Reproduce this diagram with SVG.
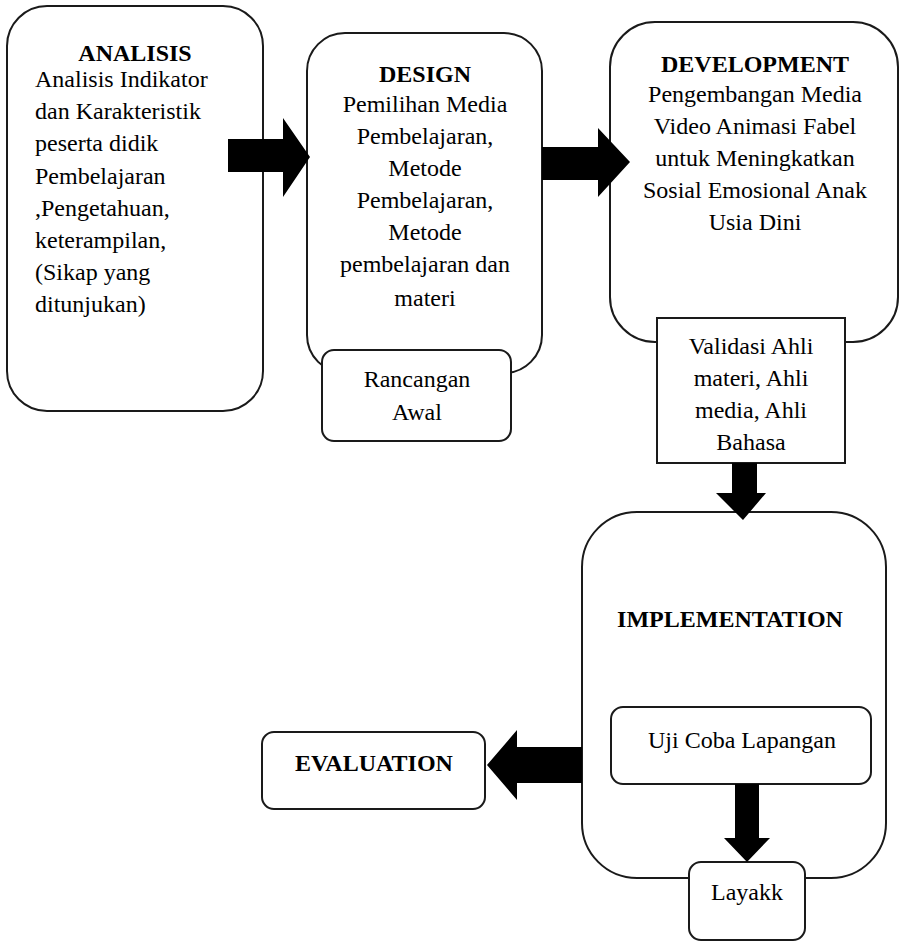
<svg xmlns="http://www.w3.org/2000/svg" width="901" height="941" viewBox="0 0 901 941" font-family="'Liberation Serif', serif">
<style>
text{font-family:'Liberation Serif',serif;font-size:24px;fill:#000}
.box{fill:#fff;stroke:#1a1a1a;stroke-width:2}
.b{font-weight:bold}
.c{text-anchor:middle}
.arrow{fill:#000;stroke:none}
</style>
<rect width="901" height="941" fill="#fff"/>
<g id="analisis">
<rect class="box" x="7" y="6" width="256" height="405" rx="40" ry="40"/>
<text class="b c" x="135" y="61">ANALISIS</text>
<text x="35" y="87">Analisis Indikator</text>
<text x="35" y="119">dan Karakteristik</text>
<text x="35" y="151">peserta didik</text>
<text x="35" y="184">Pembelajaran</text>
<text x="35" y="216">,Pengetahuan,</text>
<text x="35" y="248">keterampilan,</text>
<text x="35" y="280">(Sikap yang</text>
<text x="35" y="312">ditunjukan)</text>
</g>
<g id="design">
<rect class="box" x="307" y="33" width="235" height="340" rx="38" ry="38"/>
<text class="b c" x="425" y="82">DESIGN</text>
<text class="c" x="425" y="112">Pemilihan Media</text>
<text class="c" x="425" y="144">Pembelajaran,</text>
<text class="c" x="425" y="176">Metode</text>
<text class="c" x="425" y="208">Pembelajaran,</text>
<text class="c" x="425" y="240">Metode</text>
<text class="c" x="425" y="272">pembelajaran dan</text>
<text class="c" x="425" y="306">materi</text>
</g>
<g id="rancangan">
<rect class="box" x="322" y="350" width="189" height="91" rx="12" ry="12"/>
<text class="c" x="417" y="387">Rancangan</text>
<text class="c" x="417" y="420">Awal</text>
</g>
<g id="development">
<rect class="box" x="610" y="22" width="288" height="320" rx="45" ry="45"/>
<text class="b c" x="755" y="72">DEVELOPMENT</text>
<text class="c" x="755" y="102">Pengembangan Media</text>
<text class="c" x="755" y="134">Video Animasi Fabel</text>
<text class="c" x="755" y="166">untuk Meningkatkan</text>
<text class="c" x="755" y="198">Sosial Emosional Anak</text>
<text class="c" x="755" y="230">Usia Dini</text>
</g>
<g id="validasi">
<rect class="box" x="657" y="318" width="188" height="145"/>
<text class="c" x="751" y="354">Validasi Ahli</text>
<text class="c" x="751" y="386">materi, Ahli</text>
<text class="c" x="751" y="418">media, Ahli</text>
<text class="c" x="751" y="450">Bahasa</text>
</g>
<g id="implementation">
<rect class="box" x="582" y="512" width="304" height="366" rx="55" ry="55"/>
<text class="b c" x="730" y="627">IMPLEMENTATION</text>
</g>
<g id="uji">
<rect class="box" x="611" y="707" width="260" height="77" rx="12" ry="12"/>
<text class="c" x="742" y="748">Uji Coba Lapangan</text>
</g>
<g id="layak">
<rect class="box" x="689" y="862" width="116" height="78" rx="12" ry="12"/>
<text class="c" x="747" y="900">Layakk</text>
</g>
<g id="evaluation">
<rect class="box" x="262" y="732" width="223" height="77" rx="12" ry="12"/>
<text class="b c" x="374" y="771">EVALUATION</text>
</g>
<g id="connectors">
<polygon class="arrow" points="228,139 283,139 283,118 310,157 283,197 283,172 228,172"/>
<polygon class="arrow" points="542,147 598,147 598,128 630,162 598,197 598,180 542,180"/>
<polygon class="arrow" points="732,463 757,463 757,493 766,493 743,520 716,493 732,493"/>
<polygon class="arrow" points="735,784 759,784 759,838 770,838 747,862 724,838 735,838"/>
<polygon class="arrow" points="582,747 582,783 517,783 517,800 487,765 517,730 517,747"/>
</g>
</svg>
